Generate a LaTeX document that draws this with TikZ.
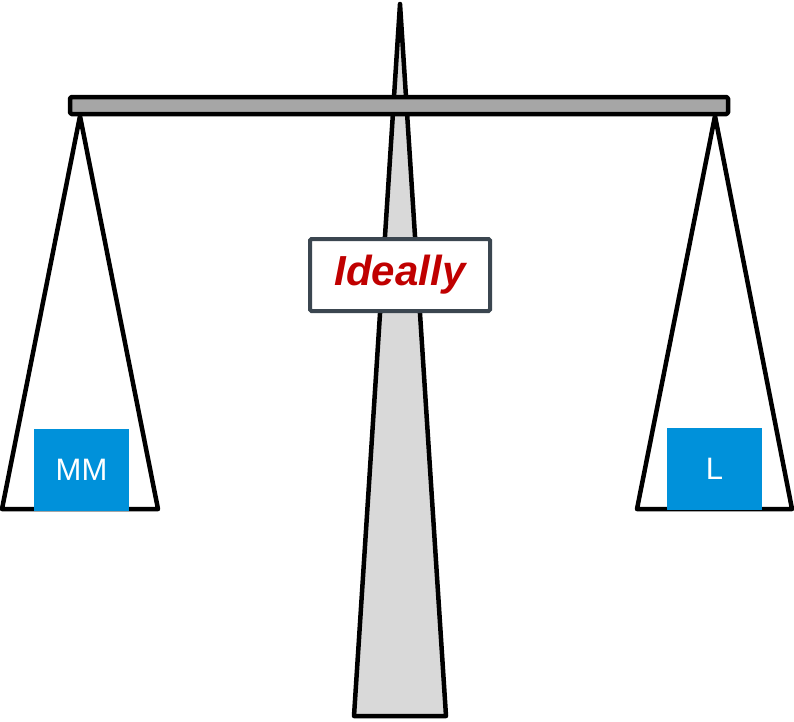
\documentclass[tikz,border=0pt]{standalone}
\usepackage{fontspec}
\setmainfont{Liberation Sans}
\definecolor{pillarfill}{HTML}{D9D9D9}
\definecolor{beamfill}{HTML}{A6A6A6}
\definecolor{weightblue}{HTML}{0091DA}
\definecolor{framegray}{HTML}{3B4650}
\definecolor{labelred}{HTML}{C00000}
\tikzset{
  outline/.style={draw=black, line width=4.5pt, line join=round},
  weight/.style={fill=weightblue, draw=none, minimum width=95pt, minimum height=82pt, inner sep=0pt,
    text=white, font=\fontsize{31}{36}\selectfont},
  tag/.style={fill=white, draw=framegray, line width=4pt, rounded corners=1.5pt,
    minimum width=180pt, minimum height=72pt, inner sep=0pt,
    text=labelred, font=\fontsize{42}{48}\selectfont\bfseries\itshape}
}
\begin{document}
\begin{tikzpicture}[x=1pt,y=-1pt]
\useasboundingbox (0,0) rectangle (794,721);
% pillar
\draw[outline, fill=pillarfill] (400,4) -- (446,716) -- (354,716) -- cycle;
% pans
\draw[outline, line cap=round] (2,509) -- (80,116) -- (158,509) -- cycle;
\draw[outline, line cap=round] (637,509) -- (715,116) -- (792,509) -- cycle;
% beam
\draw[outline, fill=beamfill, rounded corners=1.5pt] (70,97) rectangle (728,114);
% weights
\node[weight] (mm) at (81.5,470) {MM};
\node[weight] (l) at (714.5,469) {L};
% label
\node[tag] (ideal) at (400,275) {\raisebox{-2pt}{Ideally}};
\end{tikzpicture}
\end{document}
